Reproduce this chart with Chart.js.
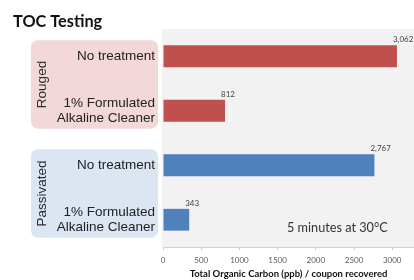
<!DOCTYPE html>
<html>
<head>
<meta charset="utf-8">
<script src="https://cdn.jsdelivr.net/npm/chart.js@4"></script>
<style>
html,body{margin:0;padding:0;background:#fff;}
#wrap{width:414px;height:280px;position:relative;}
</style>
</head>
<body>
<div id="wrap"><canvas id="c" width="414" height="280"></canvas></div>
<script>
// ---- data ----
const chartTitle = 'TOC Testing';
const groups = ['Rouged', 'Passivated'];
const categories = [
  ['No treatment'],
  ['1% Formulated', 'Alkaline Cleaner'],
  ['No treatment'],
  ['1% Formulated', 'Alkaline Cleaner']
];
const values = [3062, 812, 2767, 343];
const barGroup = [0, 0, 1, 1];
const xTicks = [0, 500, 1000, 1500, 2000, 2500, 3000];
const xTitle = 'Total Organic Carbon (ppb) / coupon recovered';
const note = '5 minutes at 30°C';

// ---- styles ----
const groupBarColors = ['#c0504d', '#4f81bd'];
const groupPanelColors = ['#f2d8d8', '#dce6f2'];

const decor = {
  id: 'decor',
  beforeDraw(chart) {
    const ctx = chart.ctx, a = chart.chartArea, y = chart.scales.y;
    ctx.save();
    ctx.fillStyle = '#fff';
    ctx.fillRect(0, 0, chart.width, chart.height);
    ctx.fillStyle = '#f2f2f2';
    ctx.fillRect(a.left - 1, a.top, a.right - a.left + 1, a.bottom - a.top);
    // group panels
    groups.forEach((g, gi) => {
      const idx = barGroup.map((v, i) => v === gi ? i : -1).filter(i => i >= 0);
      const t = y.getPixelForValue(idx[0]) - 16;
      const b = y.getPixelForValue(idx[idx.length - 1]) + 18;
      ctx.fillStyle = groupPanelColors[gi];
      ctx.beginPath();
      ctx.roundRect(31, t, 127, b - t, 7);
      ctx.fill();
      ctx.save();
      ctx.translate(42, (t + b) / 2);
      ctx.rotate(-Math.PI / 2);
      ctx.fillStyle = '#2a2a2a';
      ctx.font = '13.5px "Liberation Sans", Arial, sans-serif';
      ctx.textAlign = 'center';
      ctx.textBaseline = 'middle';
      ctx.fillText(g, 0, 0);
      ctx.restore();
    });
    // title
    ctx.fillStyle = '#111';
    ctx.font = 'bold 16.3px Lato, sans-serif';
    ctx.textAlign = 'left';
    ctx.textBaseline = 'alphabetic';
    ctx.fillText(chartTitle, 13, 27);
    ctx.restore();
  },
  afterDatasetsDraw(chart) {
    const ctx = chart.ctx, meta = chart.getDatasetMeta(0);
    ctx.save();
    ctx.fillStyle = '#404040';
    ctx.font = '8px Lato, sans-serif';
    ctx.textAlign = 'left';
    ctx.textBaseline = 'alphabetic';
    meta.data.forEach((bar, i) => {
      const top = bar.y - bar.height / 2;
      ctx.fillText(values[i].toLocaleString('en-US'), bar.x - 4, top - 3);
    });
    // note
    ctx.fillStyle = '#333';
    ctx.font = '12.7px Lato, sans-serif';
    ctx.textBaseline = 'middle';
    ctx.fillText(note, 287, 228);
    ctx.restore();
  }
};

new Chart(document.getElementById('c'), {
  type: 'bar',
  data: {
    labels: categories,
    datasets: [{
      data: values,
      backgroundColor: barGroup.map(g => groupBarColors[g]),
      borderWidth: 0,
      barPercentage: 0.4,
      categoryPercentage: 1.0
    }]
  },
  options: {
    indexAxis: 'y',
    responsive: false,
    animation: false,
    devicePixelRatio: 1,
    layout: { padding: { top: 29, right: 0, left: 0, bottom: 0 } },
    plugins: { legend: { display: false }, tooltip: { enabled: false }, title: { display: false } },
    scales: {
      x: {
        min: 0, max: 3285,
        afterBuildTicks(s) { s.ticks = xTicks.map(v => ({ value: v })); },
        afterFit(s) { s.height = 33; },
        border: { display: true, color: '#d0d0d0' },
        grid: { display: true, drawOnChartArea: false, drawTicks: true, tickLength: 3, color: '#c8c8c8' },
        ticks: { color: '#595959', font: { family: 'Lato', size: 8 }, padding: 6, maxRotation: 0, autoSkip: false,
                 callback: (v) => String(v) },
        title: { display: true, text: xTitle, color: '#111', font: { family: 'Lato', size: 9.5, weight: 'bold' }, padding: { top: 0, bottom: 0 } }
      },
      y: {
        afterFit(s) { s.width = 163; },
        border: { display: false },
        grid: { display: false, drawTicks: false },
        ticks: { color: '#222', font: { family: 'Liberation Sans', size: 13.5, lineHeight: 1.18 }, padding: 8, autoSkip: false }
      }
    }
  },
  plugins: [decor]
});
</script>
</body>
</html>
